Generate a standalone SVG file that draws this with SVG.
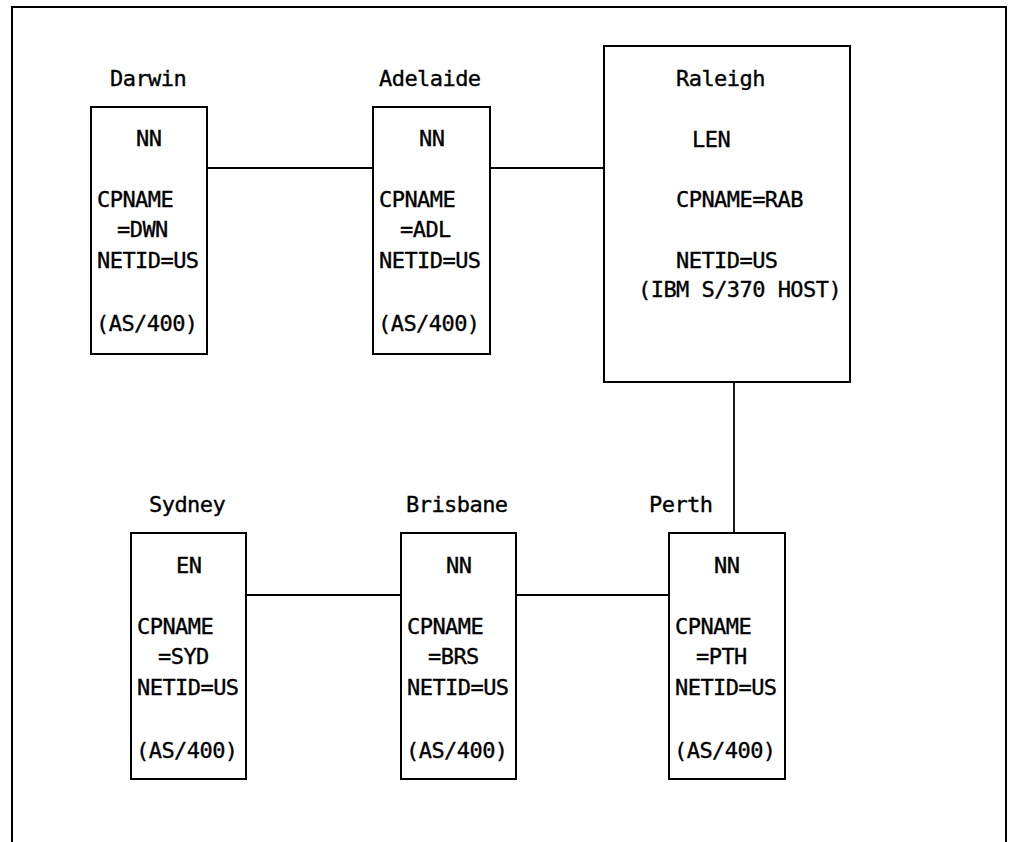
<svg xmlns="http://www.w3.org/2000/svg" width="1010" height="842" viewBox="0 0 1010 842">
<style>
.box{fill:none;stroke:#000;stroke-width:2}
.ln{fill:none;stroke:#000;stroke-width:1.8}
text{font-family:"DejaVu Sans Mono","Liberation Mono",monospace;font-size:22px;letter-spacing:-0.55px;fill:#000;stroke:#000;stroke-width:0.35}
</style>
<rect width="1010" height="842" fill="#fff"/>
<path class="box" d="M12,850 V7 H1006 V850"/>
<g id="connectors">
<line class="ln" x1="207" y1="168" x2="373" y2="168"/>
<line class="ln" x1="490" y1="168" x2="604" y2="168"/>
<line class="ln" x1="734" y1="382" x2="734" y2="533"/>
<line class="ln" x1="246" y1="595" x2="401" y2="595"/>
<line class="ln" x1="516" y1="595" x2="669" y2="595"/>
</g>
<g id="darwin">
<text x="110" y="86">Darwin</text>
<rect class="box" x="91" y="107" width="116" height="247"/>
<text x="136" y="146">NN</text>
<text x="97" y="207">CPNAME</text>
<text x="117" y="237">=DWN</text>
<text x="97" y="268">NETID=US</text>
<text x="96" y="331">(AS/400)</text>
</g>
<g id="adelaide">
<text x="379" y="86">Adelaide</text>
<rect class="box" x="373" y="107" width="117" height="247"/>
<text x="419" y="146">NN</text>
<text x="379" y="207">CPNAME</text>
<text x="400" y="237">=ADL</text>
<text x="379" y="268">NETID=US</text>
<text x="378" y="331">(AS/400)</text>
</g>
<g id="raleigh">
<rect class="box" x="604" y="46" width="246" height="336"/>
<text x="676" y="86">Raleigh</text>
<text x="692" y="147">LEN</text>
<text x="676" y="207">CPNAME=RAB</text>
<text x="676" y="268">NETID=US</text>
<text x="638" y="297">(IBM S/370 HOST)</text>
</g>
<g id="sydney">
<text x="149" y="512">Sydney</text>
<rect class="box" x="131" y="533" width="115" height="246"/>
<text x="176" y="573">EN</text>
<text x="137" y="634">CPNAME</text>
<text x="158" y="664">=SYD</text>
<text x="137" y="695">NETID=US</text>
<text x="136" y="758">(AS/400)</text>
</g>
<g id="brisbane">
<text x="406" y="512">Brisbane</text>
<rect class="box" x="401" y="533" width="115" height="246"/>
<text x="446" y="573">NN</text>
<text x="407" y="634">CPNAME</text>
<text x="428" y="664">=BRS</text>
<text x="407" y="695">NETID=US</text>
<text x="406" y="758">(AS/400)</text>
</g>
<g id="perth">
<text x="649" y="512">Perth</text>
<rect class="box" x="669" y="533" width="116" height="246"/>
<text x="714" y="573">NN</text>
<text x="675" y="634">CPNAME</text>
<text x="696" y="664">=PTH</text>
<text x="675" y="695">NETID=US</text>
<text x="674" y="758">(AS/400)</text>
</g>
</svg>
